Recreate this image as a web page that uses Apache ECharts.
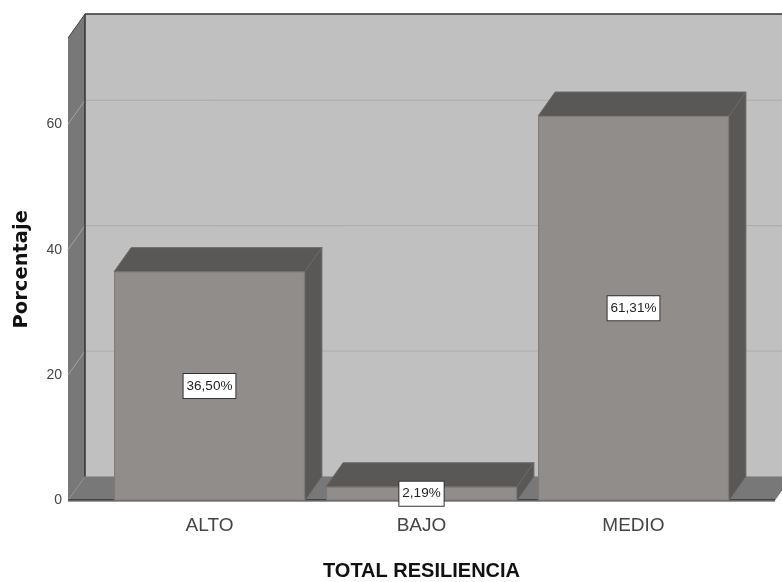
<!DOCTYPE html>
<html>
<head>
<meta charset="utf-8">
<style>html,body{margin:0;padding:0;background:#fff}#c{width:782px;height:582px;filter:blur(0.4px)}</style>
<script src="https://cdn.jsdelivr.net/npm/echarts@6/dist/echarts.min.js"></script>
</head>
<body>
<div id="c"></div>
<script>
var categories = ['ALTO', 'BAJO', 'MEDIO'];
var percentages = [36.50, 2.19, 61.31];
var tickValues = [0, 20, 40, 60];
var axisMax = 73.76;
var depthX = 17, depthY = 24, wallLeft = 35.5, floorRight = 35.5;

function poly(pts, fill, stroke) {
  return {type: 'polygon', shape: {points: pts}, style: {fill: fill, stroke: stroke || fill, lineWidth: stroke ? 1 : 0}};
}
function line(pts, color, w) {
  return {type: 'polyline', shape: {points: pts}, style: {fill: null, stroke: color, lineWidth: w || 1}};
}
function renderWalls(params, api) {
  var cs = params.coordSys;
  var x0 = cs.x - wallLeft, x1 = cs.x + cs.width + floorRight;
  var yb = api.coord([0, 0])[1], yt = api.coord([0, axisMax])[1];
  var kids = [
    poly([[x0 + depthX, yt - depthY], [x1 + depthX, yt - depthY], [x1 + depthX, yb - depthY], [x0 + depthX, yb - depthY]], '#c0c0c0'),
    poly([[x0, yt], [x0 + depthX, yt - depthY], [x0 + depthX, yb - depthY], [x0, yb]], '#787878'),
    poly([[x0, yb], [x0 + depthX, yb - depthY], [x1 + depthX, yb - depthY], [x1, yb]], '#787878')
  ];
  tickValues.slice(1).forEach(function (t) {
    var y = api.coord([0, t])[1];
    kids.push(line([[x0, y], [x0 + depthX, y - depthY]], '#a2a2a2'));
    kids.push(line([[x0 + depthX, y - depthY], [x1 + depthX, y - depthY]], '#acacac'));
  });
  kids.push(line([[x0 + depthX, yb - depthY], [x1 + depthX, yb - depthY]], '#9a9a9a'));
  kids.push(line([[x0 + depthX, yt - depthY], [x0 + depthX, yb - depthY]], '#333333', 1.5));
  kids.push(line([[x0 + depthX, yt - depthY], [x1 + depthX, yt - depthY]], '#333333', 1.5));
  kids.push(line([[x0, yt], [x0 + depthX, yt - depthY]], '#444444'));
  kids.push(line([[x0, yb - 0.5], [x1, yb - 0.5]], '#111111', 1));
  kids.push(line([[x0, yb + 1], [x1, yb + 1]], '#9a9a9a', 1));
  return {type: 'group', children: kids};
}
function renderDepth(params, api) {
  var p = api.coord([api.value(0), api.value(1)]);
  var b = api.coord([api.value(0), 0]);
  var w = api.size([1, 0])[0] * 0.9;
  var l = p[0] - w / 2, r = p[0] + w / 2;
  return {type: 'group', children: [
    poly([[l, p[1]], [l + depthX, p[1] - depthY], [r + depthX, p[1] - depthY], [r, p[1]]], '#5a5856', '#6a6866'),
    poly([[r, p[1]], [r + depthX, p[1] - depthY], [r + depthX, b[1] - depthY], [r, b[1]]], '#5a5856', '#6a6866')
  ]};
}
var font = '"Liberation Sans",sans-serif';
var chart = echarts.init(document.getElementById('c'), null, {renderer: 'canvas'});
chart.setOption({
  animation: false,
  backgroundColor: '#ffffff',
  grid: {left: 103.5, top: 38, width: 636, height: 462.5, outerBoundsMode: 'none'},
  xAxis: {
    type: 'category', data: categories,
    axisLine: {show: false}, axisTick: {show: false}, splitLine: {show: false},
    axisLabel: {fontFamily: font, fontSize: 19, color: '#444', margin: 16},
    name: 'TOTAL RESILIENCIA', nameLocation: 'middle', nameGap: 61,
    nameTextStyle: {fontFamily: font, fontWeight: 'bold', fontSize: 20, color: '#111'}
  },
  yAxis: {
    type: 'value', min: 0, max: axisMax, interval: 20, offset: 35.5,
    axisLine: {show: false}, axisTick: {show: false}, splitLine: {show: false},
    axisLabel: {customValues: tickValues, fontFamily: font, fontSize: 14, color: '#444', margin: 6},
    name: 'Porcentaje', nameLocation: 'middle', nameGap: 36,
    nameTextStyle: {fontFamily: '"DejaVu Sans",sans-serif', fontWeight: 'bold', fontSize: 19.5, color: '#111'}
  },
  series: [
    {type: 'custom', z: 1, clip: false, silent: true, data: [[0, 0]], renderItem: renderWalls},
    {type: 'custom', z: 2, clip: false, silent: true, data: percentages.map(function (v, i) { return [i, v]; }), renderItem: renderDepth},
    {type: 'bar', z: 3, barWidth: '90%', data: percentages,
      itemStyle: {color: '#918d8b', borderColor: '#7e7a78', borderWidth: 1},
      label: {show: true, position: 'inside', fontFamily: font, fontSize: 13.5, color: '#222',
        backgroundColor: '#ffffff', borderColor: '#333333', borderWidth: 1, padding: [5, 3, 5, 3],
        formatter: function (p) { return p.value.toFixed(2).replace('.', ',') + '%'; }}
    }
  ]
});
</script>
</body>
</html>
